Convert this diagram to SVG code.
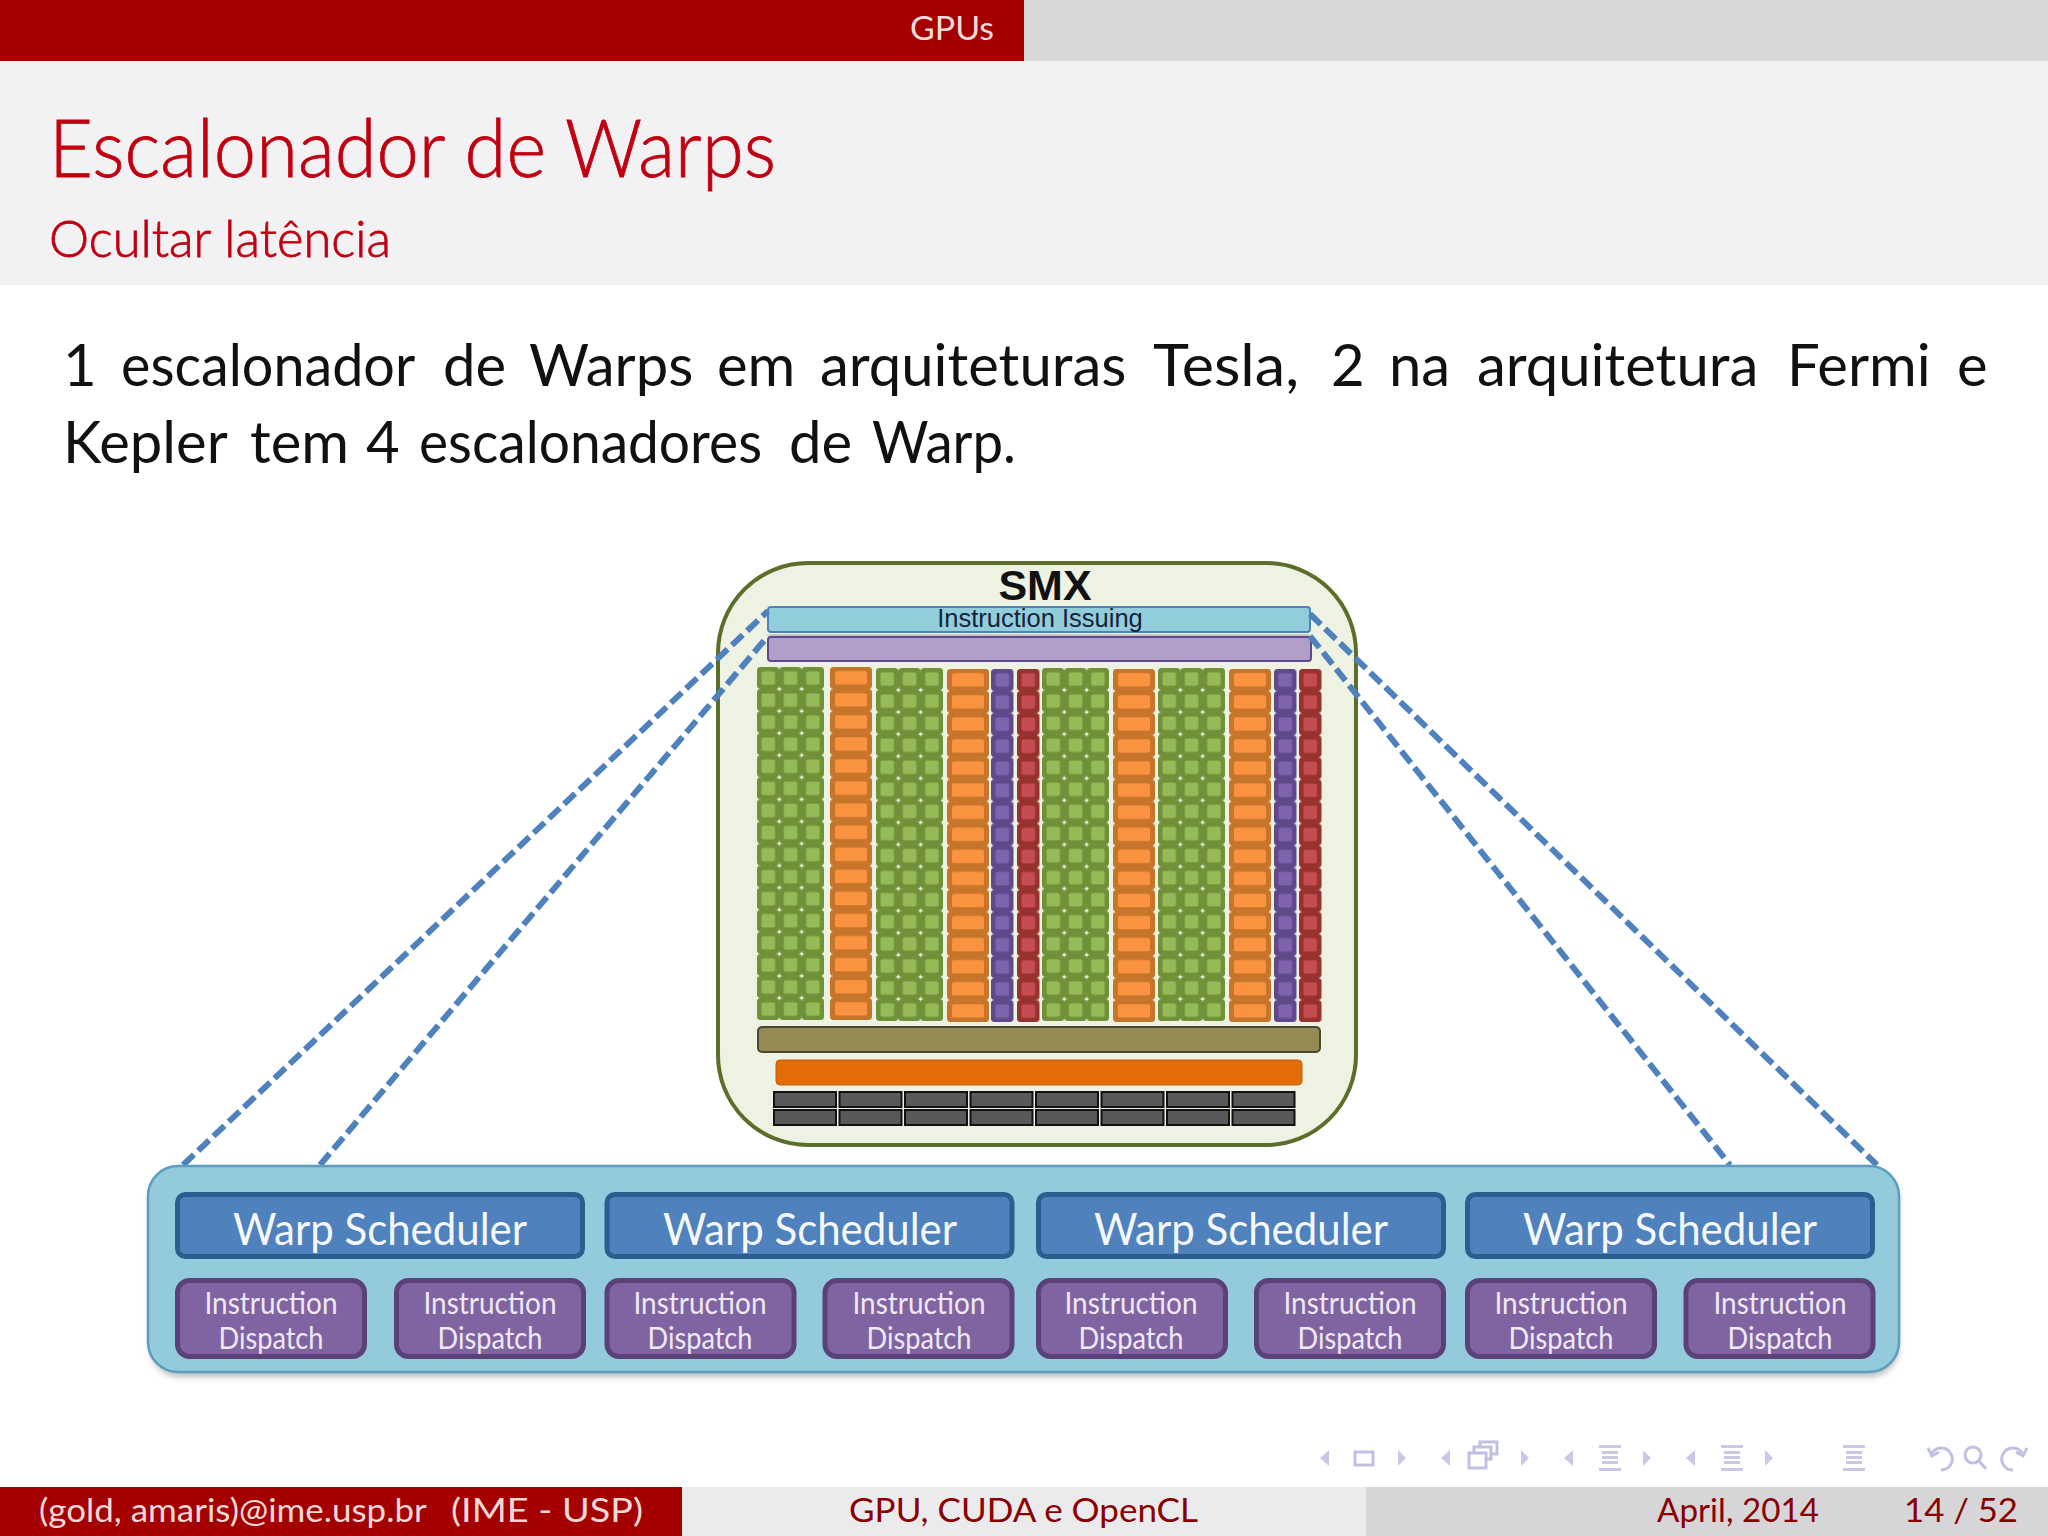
<svg xmlns="http://www.w3.org/2000/svg" xmlns:xlink="http://www.w3.org/1999/xlink" width="2048" height="1536" viewBox="0 0 2048 1536">
<style>
.s{font-family:"Lato","Open Sans",sans-serif}
.t{fill:#c00010;stroke:#c00010;stroke-width:.8;font-weight:300}
.b{fill:#111;font-size:58px}
.wsb{fill:#4f81bd;stroke:#2c5f8f;stroke-width:5}
.idb{fill:#8064a2;stroke:#5a4278;stroke-width:5}
.wst{font-family:"Lato","Open Sans",sans-serif;font-size:44px;fill:#f4f8fc;text-anchor:middle}
.idt{font-family:"Lato","Open Sans",sans-serif;font-size:30px;fill:#efe8f5;text-anchor:middle}
.dash{fill:none;stroke:#4f81bd;stroke-width:6;stroke-dasharray:15 6}
.nav{fill:#c9c9e6}
.navl{fill:none;stroke:#c0c0e2;stroke-width:3}
.f{font-family:"Lato","Open Sans",sans-serif;font-size:33px;fill:#8a0000}
.dk{fill:#595959;stroke:#111;stroke-width:2}
</style>
<defs>
<pattern id="pg" width="22.33" height="22.07" patternUnits="userSpaceOnUse"><rect x="0" y="0" width="22.33" height="22.07" rx="3.5" fill="#6f9138"/><rect x="4.5" y="4.3" width="13.5" height="13.5" rx="2" fill="#97ba58"/></pattern>
<pattern id="po" width="42" height="22.07" patternUnits="userSpaceOnUse"><rect x="0" y="0" width="42" height="22.07" rx="3.5" fill="#c67429"/><rect x="5" y="4" width="32" height="13.5" rx="2" fill="#f9933f"/></pattern>
<pattern id="pp" width="22.5" height="22.07" patternUnits="userSpaceOnUse"><rect x="0" y="0" width="22.5" height="22.07" rx="3.5" fill="#5f4a8b"/><rect x="4.5" y="4.3" width="13.5" height="13.5" rx="2" fill="#8064ad"/></pattern>
<pattern id="pr" width="22.5" height="22.07" patternUnits="userSpaceOnUse"><rect x="0" y="0" width="22.5" height="22.07" rx="3.5" fill="#98302f"/><rect x="4.5" y="4.3" width="13.5" height="13.5" rx="2" fill="#c44e52"/></pattern>
<filter id="sh" x="-5%" y="-10%" width="110%" height="125%"><feGaussianBlur stdDeviation="3"/></filter>
<filter id="soft" x="-2%" y="-2%" width="104%" height="104%"><feGaussianBlur stdDeviation="0.7"/></filter>
<g id="docl"><rect class="nav" x="0" y="-13" width="22" height="3"/><rect class="nav" x="3" y="-7" width="16" height="3"/><rect class="nav" x="3" y="-2" width="16" height="3"/><rect class="nav" x="3" y="3" width="16" height="3"/><rect class="nav" x="0" y="10" width="22" height="3"/></g>
</defs>
<rect width="2048" height="1536" fill="#fff"/>

<g id="header">
<rect x="0" y="0" width="1024" height="61" fill="#a50000"/>
<rect x="1024" y="0" width="1024" height="61" fill="#d8d9d7"/>
<rect x="0" y="61" width="2048" height="224" fill="#f2f1f3"/>
<text class="s" x="910" y="40" font-size="32" fill="#f5dcdc" textLength="84" lengthAdjust="spacingAndGlyphs">GPUs</text>
<text class="s t" x="49" y="177" font-size="80" textLength="727" lengthAdjust="spacingAndGlyphs">Escalonador de Warps</text>
<text class="s t" x="49" y="257" font-size="52" textLength="342" lengthAdjust="spacingAndGlyphs">Ocultar latência</text>
</g>

<g id="body-text">
<text class="s b" y="386"><tspan x="63">1</tspan> <tspan x="121" textLength="293" lengthAdjust="spacingAndGlyphs">escalonador</tspan> <tspan x="443">de</tspan> <tspan x="529">Warps</tspan> <tspan x="717">em</tspan> <tspan x="820">arquiteturas</tspan> <tspan x="1153" textLength="146" lengthAdjust="spacingAndGlyphs">Tesla,</tspan> <tspan x="1331">2</tspan> <tspan x="1389">na</tspan> <tspan x="1477">arquitetura</tspan> <tspan x="1787">Fermi</tspan> <tspan x="1957">e</tspan></text>
<text class="s b" y="463"><tspan x="63">Kepler</tspan> <tspan x="250">tem</tspan> <tspan x="366">4</tspan> <tspan x="419" textLength="343" lengthAdjust="spacingAndGlyphs">escalonadores</tspan> <tspan x="789">de</tspan> <tspan x="872" textLength="144" lengthAdjust="spacingAndGlyphs">Warp.</tspan></text>
</g>

<g id="smx">
<rect x="718" y="563" width="638" height="582" rx="90" fill="#edf2e2" stroke="#5b6e2a" stroke-width="4"/>
<text x="1045" y="600" font-family="Liberation Sans,Arial,sans-serif" font-weight="bold" font-size="43" text-anchor="middle" fill="#111">SMX</text>
<rect x="768" y="634" width="543" height="28" rx="4" fill="#aaa" opacity=".6"/>
<g id="instruction-issuing">
<rect x="768" y="607" width="542" height="25" rx="3" fill="#92cddc" stroke="#4f81bd" stroke-width="2"/>
<text x="1040" y="627" font-family="Liberation Sans,Arial,sans-serif" font-size="25.5" text-anchor="middle" fill="#15233a">Instruction Issuing</text>
</g>
<rect id="purple-bar" x="768" y="637" width="543" height="24" rx="3" fill="#b29fc9" stroke="#5f4a8b" stroke-width="2"/>

<g id="cores" filter="url(#soft)">
<rect transform="translate(757,667)" width="67" height="353" fill="url(#pg)"/>
<rect transform="translate(830,667)" width="42" height="353" fill="url(#po)"/>
<rect transform="translate(876,668)" width="67" height="353" fill="url(#pg)"/>
<rect transform="translate(947,669)" width="42" height="353" fill="url(#po)"/>
<rect transform="translate(991,669)" width="22.5" height="353" fill="url(#pp)"/>
<rect transform="translate(1017,669)" width="22.5" height="353" fill="url(#pr)"/>
<rect transform="translate(1042,668)" width="67" height="353" fill="url(#pg)"/>
<rect transform="translate(1113,669)" width="42" height="353" fill="url(#po)"/>
<rect transform="translate(1158,668)" width="67" height="353" fill="url(#pg)"/>
<rect transform="translate(1229,669)" width="42" height="353" fill="url(#po)"/>
<rect transform="translate(1274,669)" width="22.5" height="353" fill="url(#pp)"/>
<rect transform="translate(1299,669)" width="22.5" height="353" fill="url(#pr)"/>
</g>

<rect id="olive-bar" x="758" y="1027" width="562" height="25" rx="4" fill="#948a54" stroke="#4a4632" stroke-width="2"/>
<rect id="orange-bar" x="776" y="1060" width="526" height="25" rx="4" fill="#e36c09" stroke="#c45f08" stroke-width="1"/>
<g id="memory">
<rect class="dk" x="774" y="1092" width="62" height="15"/><rect class="dk" x="839.5" y="1092" width="62" height="15"/><rect class="dk" x="905" y="1092" width="62" height="15"/><rect class="dk" x="970.5" y="1092" width="62" height="15"/><rect class="dk" x="1036" y="1092" width="62" height="15"/><rect class="dk" x="1101.5" y="1092" width="62" height="15"/><rect class="dk" x="1167" y="1092" width="62" height="15"/><rect class="dk" x="1232.5" y="1092" width="62" height="15"/>
<rect class="dk" x="774" y="1110" width="62" height="15"/><rect class="dk" x="839.5" y="1110" width="62" height="15"/><rect class="dk" x="905" y="1110" width="62" height="15"/><rect class="dk" x="970.5" y="1110" width="62" height="15"/><rect class="dk" x="1036" y="1110" width="62" height="15"/><rect class="dk" x="1101.5" y="1110" width="62" height="15"/><rect class="dk" x="1167" y="1110" width="62" height="15"/><rect class="dk" x="1232.5" y="1110" width="62" height="15"/>
</g>
</g>

<g id="connectors">
<path class="dash" d="M183 1165L768 611"/>
<path class="dash" d="M320 1165L768 636"/>
<path class="dash" d="M1310 614L1877 1165"/>
<path class="dash" d="M1310 636L1730 1165"/>
</g>

<g id="panel">
<rect x="150" y="1170" width="1749" height="207" rx="30" fill="#777" opacity=".5" filter="url(#sh)"/>
<rect x="148" y="1166" width="1751" height="206" rx="30" fill="#93cbdc" stroke="#5c9dc0" stroke-width="2.5"/>
</g>

<g id="warp-scheduler-1"><rect class="wsb" x="177.5" y="1194.5" width="405" height="62" rx="8"/><text class="wst" x="380" y="1245" textLength="294" lengthAdjust="spacingAndGlyphs">Warp Scheduler</text></g>
<g id="warp-scheduler-2"><rect class="wsb" x="607" y="1194.5" width="405" height="62" rx="8"/><text class="wst" x="810" y="1245" textLength="294" lengthAdjust="spacingAndGlyphs">Warp Scheduler</text></g>
<g id="warp-scheduler-3"><rect class="wsb" x="1038.5" y="1194.5" width="405" height="62" rx="8"/><text class="wst" x="1241" y="1245" textLength="294" lengthAdjust="spacingAndGlyphs">Warp Scheduler</text></g>
<g id="warp-scheduler-4"><rect class="wsb" x="1467.5" y="1194.5" width="405" height="62" rx="8"/><text class="wst" x="1670" y="1245" textLength="294" lengthAdjust="spacingAndGlyphs">Warp Scheduler</text></g>

<g id="dispatch-1"><rect class="idb" x="177.5" y="1280.5" width="187" height="76" rx="12"/><text class="idt" x="271" y="1314" textLength="133" lengthAdjust="spacingAndGlyphs">Instruction</text><text class="idt" x="271" y="1349" textLength="105" lengthAdjust="spacingAndGlyphs">Dispatch</text></g>
<g id="dispatch-2"><rect class="idb" x="396.5" y="1280.5" width="187" height="76" rx="12"/><text class="idt" x="490" y="1314" textLength="133" lengthAdjust="spacingAndGlyphs">Instruction</text><text class="idt" x="490" y="1349" textLength="105" lengthAdjust="spacingAndGlyphs">Dispatch</text></g>
<g id="dispatch-3"><rect class="idb" x="607" y="1280.5" width="187" height="76" rx="12"/><text class="idt" x="700" y="1314" textLength="133" lengthAdjust="spacingAndGlyphs">Instruction</text><text class="idt" x="700" y="1349" textLength="105" lengthAdjust="spacingAndGlyphs">Dispatch</text></g>
<g id="dispatch-4"><rect class="idb" x="825" y="1280.5" width="187" height="76" rx="12"/><text class="idt" x="919" y="1314" textLength="133" lengthAdjust="spacingAndGlyphs">Instruction</text><text class="idt" x="919" y="1349" textLength="105" lengthAdjust="spacingAndGlyphs">Dispatch</text></g>
<g id="dispatch-5"><rect class="idb" x="1038.5" y="1280.5" width="187" height="76" rx="12"/><text class="idt" x="1131" y="1314" textLength="133" lengthAdjust="spacingAndGlyphs">Instruction</text><text class="idt" x="1131" y="1349" textLength="105" lengthAdjust="spacingAndGlyphs">Dispatch</text></g>
<g id="dispatch-6"><rect class="idb" x="1256.5" y="1280.5" width="187" height="76" rx="12"/><text class="idt" x="1350" y="1314" textLength="133" lengthAdjust="spacingAndGlyphs">Instruction</text><text class="idt" x="1350" y="1349" textLength="105" lengthAdjust="spacingAndGlyphs">Dispatch</text></g>
<g id="dispatch-7"><rect class="idb" x="1467.5" y="1280.5" width="187" height="76" rx="12"/><text class="idt" x="1561" y="1314" textLength="133" lengthAdjust="spacingAndGlyphs">Instruction</text><text class="idt" x="1561" y="1349" textLength="105" lengthAdjust="spacingAndGlyphs">Dispatch</text></g>
<g id="dispatch-8"><rect class="idb" x="1686" y="1280.5" width="187" height="76" rx="12"/><text class="idt" x="1780" y="1314" textLength="133" lengthAdjust="spacingAndGlyphs">Instruction</text><text class="idt" x="1780" y="1349" textLength="105" lengthAdjust="spacingAndGlyphs">Dispatch</text></g>

<g id="nav-icons" transform="translate(0,2)">
<path class="nav" d="M1320 1456l9-8v16z"/><rect class="navl" x="1355" y="1450" width="18" height="13"/><path class="nav" d="M1406 1456l-8-8v16z"/>
<path class="nav" d="M1441 1456l9-8v16z"/><path class="navl" d="M1474 1450v-5h17v12h-5M1480 1445v-5h17v12h-6"/><rect class="navl" x="1469" y="1451" width="17" height="15"/><path class="nav" d="M1529 1456l-8-8v16z"/>
<path class="nav" d="M1564 1456l9-8v16z"/><use href="#docl" x="1599" y="1456"/><path class="nav" d="M1651 1456l-8-8v16z"/>
<path class="nav" d="M1686 1456l9-8v16z"/><use href="#docl" x="1721" y="1456"/><path class="nav" d="M1773 1456l-8-8v16z"/>
<use href="#docl" x="1843" y="1456"/>
<path class="navl" d="M1932 1451a11 11 0 1 1 9 17M1928 1446l4 8 7-4"/>
<circle class="navl" cx="1973" cy="1453" r="8"/><path class="navl" d="M1979 1459l7 8" stroke-width="4"/>
<path class="navl" d="M2022 1451a11 11 0 1 0 -9 17M2027 1446l-4 8 -7-4"/>
</g>

<g id="footer">
<rect x="0" y="1487" width="682" height="49" fill="#a50000"/>
<rect x="682" y="1487" width="684" height="49" fill="#ebeaec"/>
<rect x="1366" y="1487" width="682" height="49" fill="#d6d6d8"/>
<text class="f" y="1522" style="fill:#f2d9d9"><tspan x="39" textLength="387" lengthAdjust="spacingAndGlyphs">(gold, amaris)@ime.usp.br</tspan> <tspan x="451" textLength="192" lengthAdjust="spacingAndGlyphs">(IME - USP)</tspan></text>
<text class="f" x="849" y="1522" textLength="349" lengthAdjust="spacingAndGlyphs">GPU, CUDA e OpenCL</text>
<text class="f" x="1657" y="1522" textLength="162" lengthAdjust="spacingAndGlyphs">April, 2014</text>
<text class="f" x="1904" y="1522" textLength="114" lengthAdjust="spacingAndGlyphs">14 / 52</text>
</g>
</svg>
